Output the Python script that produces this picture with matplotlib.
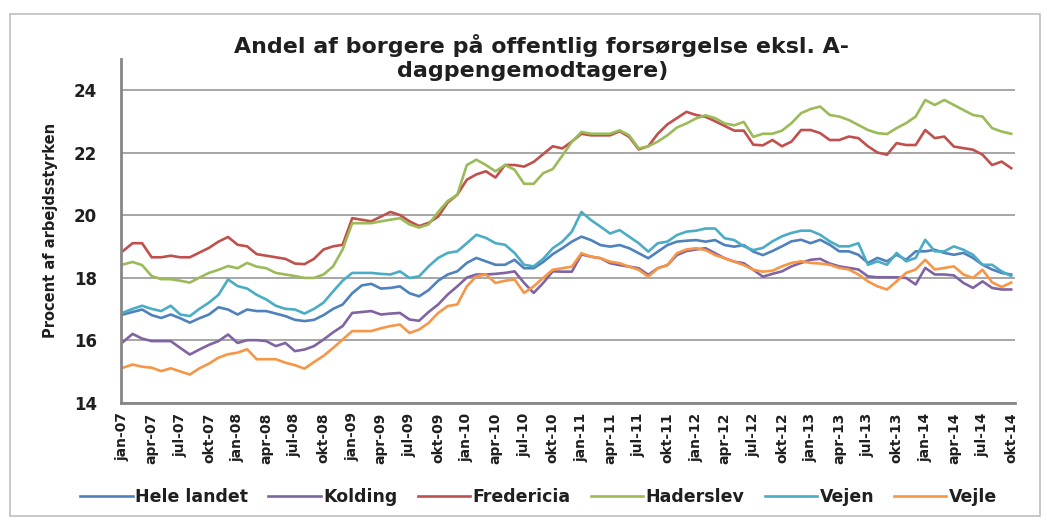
#!/usr/bin/env python

"""
Andel af borgere på offentlig forsørgelse (eksl. A-dagpengemodtagere), monthly jan-07 to okt-14.
"""

import numpy as np
import matplotlib
matplotlib.use("Agg")
import matplotlib.pyplot as plt
from matplotlib.patches import Rectangle

# month labels (Danish abbreviations) and years of the category axis
month_abbr = ["jan", "feb", "mar", "apr", "maj", "jun", "jul", "aug", "sep", "okt", "nov", "dec"]
years = ["07", "08", "09", "10", "11", "12", "13", "14"]
n_months = 94  # jan-07 .. okt-14

series_names = ["Hele landet", "Kolding", "Fredericia", "Haderslev", "Vejen", "Vejle"]

hele_landet = [
    16.82, 16.9, 16.98, 16.8, 16.71, 16.82, 16.7, 16.56, 16.7, 16.82, 17.05, 16.98,
    16.82, 16.98, 16.93, 16.93, 16.85, 16.77, 16.65, 16.61, 16.65, 16.8, 17.0, 17.14,
    17.5, 17.75, 17.8, 17.65, 17.67, 17.72, 17.5, 17.4, 17.6, 17.9, 18.1, 18.2,
    18.47, 18.63, 18.52, 18.41, 18.41, 18.57, 18.3, 18.3, 18.5, 18.75, 18.94, 19.15,
    19.31, 19.2, 19.04, 18.99, 19.04, 18.94, 18.78, 18.62, 18.83, 19.04, 19.15, 19.18,
    19.2, 19.15, 19.2, 19.04, 18.99, 19.04, 18.83, 18.72, 18.85, 19.0, 19.16, 19.21,
    19.1, 19.21, 19.05, 18.84, 18.84, 18.73, 18.47, 18.63, 18.52, 18.73, 18.57, 18.84,
    18.84, 18.89, 18.79, 18.73, 18.79, 18.63, 18.41, 18.26, 18.15, 18.1]

kolding = [
    15.94, 16.2, 16.05, 15.97, 15.97, 15.97, 15.75, 15.54, 15.7, 15.85, 15.97, 16.18,
    15.91, 16.0, 16.0, 15.97, 15.81, 15.91, 15.65, 15.7, 15.81, 16.02, 16.25, 16.45,
    16.87, 16.9, 16.93, 16.82, 16.85, 16.87, 16.66, 16.62, 16.9, 17.14, 17.46, 17.72,
    18.0, 18.1, 18.1, 18.12, 18.15, 18.2, 17.83, 17.51, 17.83, 18.2, 18.19, 18.19,
    18.74, 18.67, 18.62, 18.46, 18.4, 18.35, 18.3, 18.09, 18.3, 18.4, 18.72, 18.85,
    18.9, 18.94, 18.78, 18.62, 18.51, 18.46, 18.25, 18.03, 18.12, 18.2, 18.36, 18.47,
    18.57, 18.6, 18.45, 18.36, 18.31, 18.26, 18.04, 18.01, 18.01, 18.01, 17.99, 17.78,
    18.31, 18.1, 18.1, 18.07, 17.83, 17.67, 17.88, 17.67, 17.62, 17.62]

fredericia = [
    18.85, 19.1, 19.1, 18.65, 18.65, 18.7, 18.65, 18.65, 18.8, 18.95, 19.15, 19.3,
    19.05, 19.0, 18.75, 18.7, 18.65, 18.6, 18.45, 18.43, 18.6, 18.9, 19.0, 19.05,
    19.9, 19.85, 19.8, 19.95, 20.1, 20.0, 19.8, 19.65, 19.75, 19.95, 20.4, 20.65,
    21.13, 21.3, 21.4, 21.2, 21.6, 21.6, 21.55, 21.7, 21.95, 22.2, 22.13, 22.35,
    22.6, 22.55, 22.55, 22.55, 22.68, 22.5, 22.1, 22.2, 22.6, 22.9, 23.1, 23.3,
    23.2, 23.14, 23.0, 22.85, 22.7, 22.7, 22.25, 22.23, 22.4, 22.2, 22.35, 22.72,
    22.72, 22.62, 22.4, 22.4, 22.51, 22.46, 22.2, 22.0, 21.93, 22.3, 22.24, 22.24,
    22.72, 22.46, 22.51, 22.19, 22.14, 22.09, 21.93, 21.6, 21.71, 21.5]

haderslev = [
    18.42, 18.5, 18.4, 18.05, 17.95, 17.95, 17.9, 17.84, 18.0, 18.15, 18.25, 18.37,
    18.3, 18.47, 18.35, 18.3, 18.15, 18.1, 18.05, 17.99, 17.99, 18.1, 18.36, 18.9,
    19.74, 19.74, 19.74, 19.8, 19.85, 19.9, 19.7, 19.6, 19.7, 20.1, 20.45, 20.65,
    21.6, 21.77, 21.6, 21.4, 21.6, 21.45, 21.0, 21.0, 21.34, 21.47, 21.9, 22.34,
    22.66, 22.6, 22.6, 22.6, 22.71, 22.55, 22.13, 22.2, 22.35, 22.55, 22.8, 22.93,
    23.09, 23.19, 23.1, 22.93, 22.87, 22.98, 22.5, 22.6, 22.6, 22.7, 22.94, 23.26,
    23.39, 23.47, 23.2, 23.15, 23.04, 22.88, 22.72, 22.62, 22.59, 22.78, 22.94, 23.15,
    23.68, 23.52, 23.68, 23.52, 23.36, 23.2, 23.15, 22.78, 22.67, 22.6]

vejen = [
    16.88, 17.0, 17.1, 17.0, 16.93, 17.1, 16.82, 16.77, 17.0, 17.2, 17.45, 17.94,
    17.73, 17.65, 17.45, 17.3, 17.1, 17.0, 16.98, 16.85, 17.0, 17.2, 17.56, 17.9,
    18.15, 18.15, 18.15, 18.12, 18.1, 18.2, 17.99, 18.04, 18.36, 18.63, 18.79, 18.84,
    19.1, 19.37, 19.27, 19.1, 19.05, 18.79, 18.41, 18.36, 18.6, 18.94, 19.15, 19.47,
    20.1, 19.84, 19.63, 19.41, 19.52, 19.31, 19.1, 18.83, 19.1, 19.15, 19.36, 19.47,
    19.5, 19.57, 19.57, 19.26, 19.2, 19.0, 18.88, 18.95, 19.16, 19.32, 19.43, 19.5,
    19.5, 19.37, 19.16, 19.0, 19.0, 19.1, 18.41, 18.52, 18.41, 18.79, 18.52, 18.63,
    19.21, 18.84, 18.84, 19.0, 18.89, 18.73, 18.41, 18.41, 18.2, 18.05]

vejle = [
    15.12, 15.22, 15.15, 15.12, 15.01, 15.1, 15.0, 14.9, 15.1, 15.25, 15.44, 15.55,
    15.6, 15.71, 15.39, 15.39, 15.39, 15.28, 15.2, 15.09, 15.3, 15.5, 15.75, 16.02,
    16.29, 16.29, 16.29, 16.38, 16.45, 16.5, 16.23, 16.34, 16.55, 16.87, 17.09, 17.14,
    17.72, 18.04, 18.1, 17.83, 17.9, 17.94, 17.51, 17.72, 17.99, 18.25, 18.3, 18.35,
    18.78, 18.67, 18.62, 18.51, 18.46, 18.35, 18.25, 18.03, 18.3, 18.4, 18.78, 18.9,
    18.94, 18.88, 18.72, 18.62, 18.51, 18.4, 18.25, 18.19, 18.22, 18.36, 18.47, 18.52,
    18.47, 18.45, 18.41, 18.31, 18.26, 18.1, 17.88, 17.72, 17.62, 17.88, 18.15, 18.26,
    18.57, 18.26, 18.31, 18.36, 18.1, 17.99, 18.25, 17.85, 17.7, 17.84]

# Excel 2007 default palette
colors = ["#4F81BD", "#8064A2", "#C0504D", "#9BBB59", "#4BACC6", "#F79646"]

title_lines = ["Andel af borgere på offentlig forsørgelse eksl. A-", "dagpengemodtagere)"]
ylabel = "Procent af arbejdsstyrken"

plt.rcParams['font.family'] = ['DejaVu Sans']
TXT = "#1f1f1f"


def category_labels():
    # build "jan-07", "feb-07", ... for all months in the series
    labels = []
    for y in years:
        for m in month_abbr:
            labels.append(f"{m}-{y}")
    return labels[:n_months]


def make_plot(outfile="out.png"):
    all_series = [hele_landet, kolding, fredericia, haderslev, vejen, vejle]
    cats = category_labels()
    x = np.arange(len(cats))

    fig = plt.figure(figsize=(10.47, 5.2), dpi=100)
    # light grey chart border
    fig.patches.append(Rectangle((10 / 1047, 4 / 520), 1030 / 1047, 502 / 520,
                                 transform=fig.transFigure, fill=False,
                                 edgecolor="#BFBFBF", linewidth=1.2))

    ax = fig.add_axes([120.7 / 1047, 1 - 402.7 / 520, 894.3 / 1047, 344 / 520])

    for vals, name, col in zip(all_series, series_names, colors):
        ax.plot(x, vals, color=col, lw=1.9, label=name, solid_joinstyle='round')

    ax.set_xlim(-0.24, 93.4)
    ax.set_ylim(14, 25)
    ax.set_yticks(np.arange(14, 25, 2))
    ax.yaxis.grid(True, color="#A6A6A6", lw=1.4)
    ax.set_axisbelow(True)

    tick_idx = x[::3]
    ax.set_xticks(tick_idx)
    ax.set_xticklabels([cats[i] for i in tick_idx], rotation=90, fontsize=10,
                       fontweight='bold', color=TXT)
    for lab in ax.get_yticklabels():
        lab.set_fontsize(12)
        lab.set_fontweight('bold')
        lab.set_color(TXT)
    ax.tick_params(axis='x', length=0, pad=7)
    ax.tick_params(axis='y', length=0, pad=17)

    for side in ["top", "right"]:
        ax.spines[side].set_visible(False)
    for side in ["left", "bottom"]:
        ax.spines[side].set_color("#868686")
        ax.spines[side].set_linewidth(2)

    ax.set_ylabel(ylabel, fontsize=10.5, fontweight='bold', color=TXT)
    ax.yaxis.set_label_coords(-0.07, 0.5)

    # two title lines, placed by baseline
    fig.text(542 / 1047, 1 - 53 / 520, title_lines[0], ha='center', va='baseline',
             fontsize=15.9, fontweight='bold', color=TXT)
    fig.text(533 / 1047, 1 - 77 / 520, title_lines[1], ha='center', va='baseline',
             fontsize=15.9, fontweight='bold', color=TXT)

    fig.legend(loc='center', bbox_to_anchor=(539 / 1047, 1 - 497 / 520), ncol=6,
               frameon=False, handlelength=3.0, handletextpad=0.17, columnspacing=1.15,
               prop={'size': 12.5, 'weight': 'bold'}, labelcolor=TXT)

    fig.savefig(outfile, dpi=100)
    print(f"Saved plot to {outfile}")


if __name__ == "__main__":
    make_plot()
